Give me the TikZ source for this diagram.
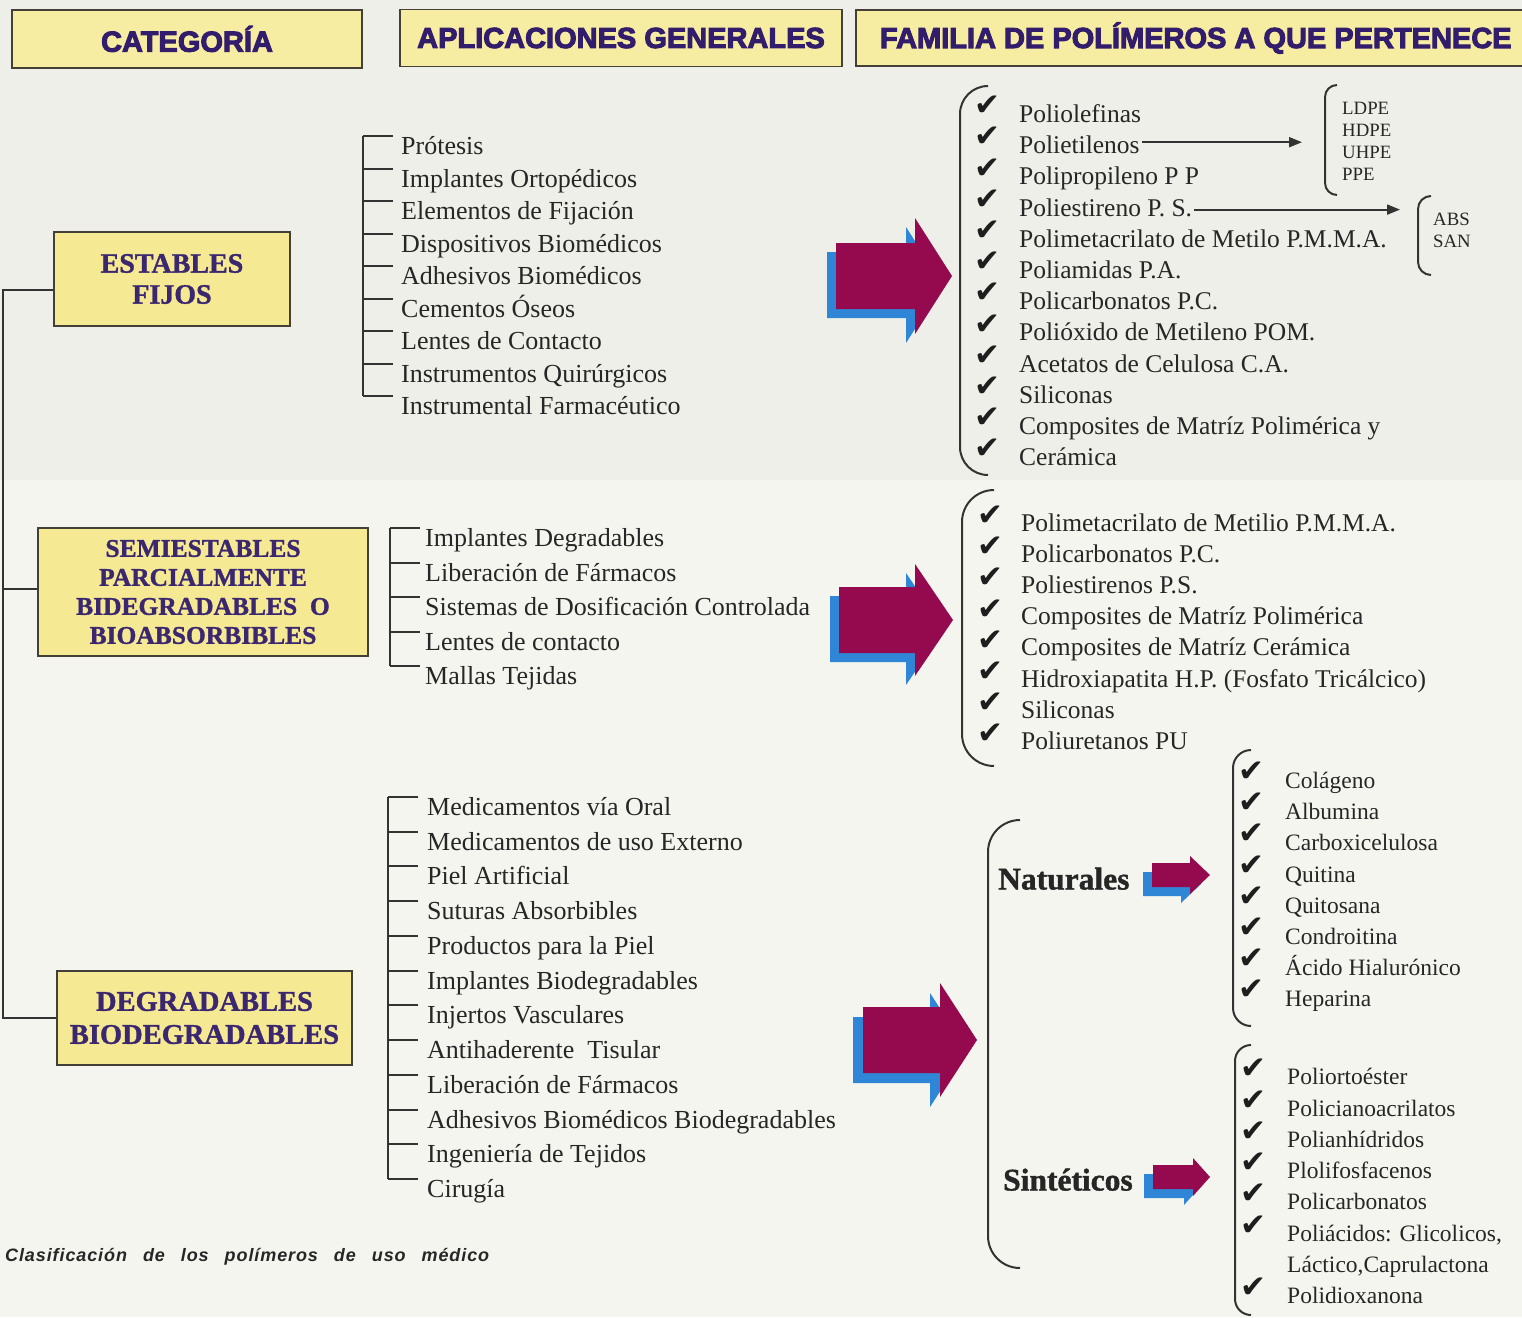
\documentclass[tikz,border=0pt]{standalone}
\usepackage{fontspec}
\setmainfont{Liberation Serif}[BoldFeatures={FakeBold=1.2}]
\newfontfamily\hdrfont{Liberation Sans}[BoldFeatures={FakeBold=3.5}]
\newfontfamily\capfont{Liberation Sans}[LetterSpace=5]
\newfontfamily\chkfont{DejaVu Sans}
\usetikzlibrary{arrows.meta}
\definecolor{bgtop}{HTML}{EFEFE9}
\definecolor{bgbot}{HTML}{F5F5F0}
\definecolor{hdrfill}{HTML}{F7EDA2}
\definecolor{catfill}{HTML}{F5E994}
\definecolor{boxline}{HTML}{444038}
\definecolor{hdrtext}{HTML}{321C6C}
\definecolor{cattext}{HTML}{3B2670}
\definecolor{lncol}{HTML}{333333}
\definecolor{txt}{HTML}{262626}
\definecolor{chkcol}{HTML}{1E1E1E}
\definecolor{amag}{HTML}{95094F}
\definecolor{ablue}{HTML}{2F86D6}
\newcommand\parbr[4]{\draw[br] (#1+#4,#2) to[out=180,in=90] (#1,#2+#4) -- (#1,#3-#4) to[out=-90,in=180] (#1+#4,#3);}
% #1 left x, #2 head base x, #3 tip x, #4 centre y, #5 body half height, #6 head half height, #7 shadow shift
\newcommand\fatarrow[7]{%
  \fill[ablue, shift={(-#7,#7)}] (#1,#4-#5) -- (#2,#4-#5) -- (#2,#4-#6) -- (#3,#4) -- (#2,#4+#6) -- (#2,#4+#5) -- (#1,#4+#5) -- cycle;
  \fill[amag] (#1,#4-#5) -- (#2,#4-#5) -- (#2,#4-#6) -- (#3,#4) -- (#2,#4+#6) -- (#2,#4+#5) -- (#1,#4+#5) -- cycle;}
\tikzset{
  ln/.style={draw=lncol, line width=2pt},
  br/.style={draw=lncol, line width=2pt},
  hbox/.style={draw=boxline, line width=1.6pt, fill=hdrfill, inner sep=0pt, text=hdrtext,
    font=\hdrfont\bfseries\fontsize{29pt}{29pt}\selectfont},
  cbox/.style={draw=boxline, line width=1.6pt, fill=catfill, align=center, inner sep=0pt, text=cattext},
  apitem/.style={anchor=west, inner sep=0pt, text height=17pt, text depth=0pt, text=txt,
    font=\fontsize{26pt}{26pt}\selectfont},
  faitem/.style={anchor=west, inner sep=0pt, text height=17pt, text depth=0pt, text=txt,
    font=\fontsize{25.5pt}{25.5pt}\selectfont},
  nitem/.style={anchor=west, inner sep=0pt, text height=15.5pt, text depth=0pt, text=txt,
    font=\fontsize{23.5pt}{23.5pt}\selectfont},
  smitem/.style={anchor=west, inner sep=0pt, text height=12.4pt, text depth=0pt, text=txt,
    font=\fontsize{18.8pt}{18.8pt}\selectfont},
  grp/.style={anchor=west, inner sep=0pt, text height=21pt, text depth=0pt, text=txt,
    font=\bfseries\fontsize{31.5pt}{31.5pt}\selectfont},
  chk/.style={inner sep=0pt, text=chkcol, font=\chkfont\fontsize{31pt}{31pt}\selectfont},
  arr/.style={draw=lncol, line width=2pt, -{Triangle[length=13pt,width=10pt]}}
}
\begin{document}
\begin{tikzpicture}[x=1pt,y=-1pt]
\fill[bgtop] (0,0) rectangle (1522,480);
\fill[bgbot] (0,480) rectangle (1522,1317);
\useasboundingbox (0,0) rectangle (1522,1317);

% headers
\node[hbox, minimum width=350pt, minimum height=58pt] (h1) at (187,39) {CATEGORÍA};
\node[hbox, minimum width=442pt, minimum height=57pt] (h2) at (621,38) {APLICACIONES GENERALES};
\node[hbox, minimum width=680pt, minimum height=56pt, anchor=west] (h3) at (855,38) {FAMILIA DE POLÍMEROS A QUE PERTENECE};

% categories
\node[cbox, minimum width=236pt, minimum height=94pt, font=\bfseries\fontsize{28pt}{31pt}\selectfont] (c1) at (172,279) {ESTABLES\\FIJOS};
\node[cbox, minimum width=330pt, minimum height=128pt, font=\bfseries\fontsize{25.5pt}{29pt}\selectfont] (c2) at (203,592) {SEMIESTABLES\\PARCIALMENTE\\BIDEGRADABLES\ \ O\\BIOABSORBIBLES};
\node[cbox, minimum width=295pt, minimum height=94pt, font=\bfseries\fontsize{28.5pt}{33pt}\selectfont] (c3) at (204.5,1018) {DEGRADABLES\\BIODEGRADABLES};

% left tree
\coordinate (lt) at (3,0);
\draw[ln] ([yshift=-11pt]c1.west) -- ([yshift=-11pt]c1.west -| lt) -- (c3.west -| lt) -- (c3.west);
\draw[ln] ([yshift=3pt]c2.west) -- ([yshift=3pt]c2.west -| lt);

% application list 1
\foreach \t [count=\i from 0] in {Prótesis, Implantes Ortopédicos, Elementos de Fijación, Dispositivos Biomédicos, Adhesivos Biomédicos, Cementos Óseos, Lentes de Contacto, Instrumentos Quirúrgicos, Instrumental Farmacéutico}{
  \node[apitem] (pa\i) at (401,{146+32.55*\i}) {\t};
  \draw[ln] ([xshift=-38pt,yshift=10pt]pa\i.west) -- ([xshift=-8pt,yshift=10pt]pa\i.west);
}
\draw[ln] ([xshift=-38pt,yshift=10pt]pa0.west) -- ([xshift=-38pt,yshift=10pt]pa8.west);

% application list 2
\foreach \t [count=\i from 0] in {Implantes Degradables, Liberación de Fármacos, Sistemas de Dosificación Controlada, Lentes de contacto, Mallas Tejidas}{
  \node[apitem] (pb\i) at (425,{538+34.5*\i}) {\t};
  \draw[ln] ([xshift=-35pt,yshift=10pt]pb\i.west) -- ([xshift=-5pt,yshift=10pt]pb\i.west);
}
\draw[ln] ([xshift=-35pt,yshift=10pt]pb0.west) -- ([xshift=-35pt,yshift=10pt]pb4.west);

% application list 3
\foreach \t [count=\i from 0] in {Medicamentos vía Oral, Medicamentos de uso Externo, Piel Artificial, Suturas Absorbibles, Productos para la Piel, Implantes Biodegradables, Injertos Vasculares, Antihaderente\ \ Tisular, Liberación de Fármacos, Adhesivos Biomédicos Biodegradables, Ingeniería de Tejidos, Cirugía}{
  \node[apitem] (pc\i) at (427,{807+34.73*\i}) {\t};
  \draw[ln] ([xshift=-39pt,yshift=10pt]pc\i.west) -- ([xshift=-9pt,yshift=10pt]pc\i.west);
}
\draw[ln] ([xshift=-39pt,yshift=10pt]pc0.west) -- ([xshift=-39pt,yshift=10pt]pc11.west);

% big arrows
\fatarrow{836}{915}{952}{276}{33}{58}{9}
\fatarrow{839}{915}{953}{620}{33}{56}{9}
\fatarrow{863}{940}{977}{1040}{33}{57}{10}

% family list A
\parbr{960}{86}{475}{28}
\foreach \t [count=\i from 0] in {Poliolefinas, Polietilenos, Polipropileno P P, Poliestireno P. S., Polimetacrilato de Metilo P.M.M.A., Poliamidas P.A., Policarbonatos P.C., Polióxido de Metileno POM., Acetatos de Celulosa C.A., Siliconas, Composites de Matríz Polimérica y, Cerámica}{
  \node[faitem] (fa\i) at (1019,{114+31.2*\i}) {\t};
  \node[chk] (ka\i) at (987,{106+31.2*\i}) {✔};
}
\parbr{1325}{85}{195}{12}
\foreach \t [count=\i from 0] in {LDPE, HDPE, UHPE, PPE}{
  \node[smitem] (pe\i) at (1342,{108+22*\i}) {\t};
}
\parbr{1418}{196}{275}{13}
\node[smitem] (ps0) at (1433,219) {ABS};
\node[smitem] (ps1) at (1433,241) {SAN};
\coordinate (peend) at (1302,0);
\coordinate (psend) at (1400,0);
\draw[arr] ([xshift=2pt,yshift=3pt]fa1.east) -- ([yshift=3pt]fa1.east -| peend);
\draw[arr] ([xshift=2pt,yshift=-2pt]fa3.east) -- ([yshift=-2pt]fa3.east -| psend);

% family list B
\parbr{962}{490}{766}{32}
\foreach \t [count=\i from 0] in {Polimetacrilato de Metilio P.M.M.A., Policarbonatos P.C., Poliestirenos P.S., Composites de Matríz Polimérica, Composites de Matríz Cerámica, Hidroxiapatita H.P. (Fosfato Tricálcico), Siliconas, Poliuretanos PU}{
  \node[faitem] (fb\i) at (1021,{523+31.1*\i}) {\t};
  \node[chk] (kb\i) at (990,{516+31.1*\i}) {✔};
}

% family list C
\parbr{988}{820}{1268}{32}
\node[grp] (nat) at (998,879) {Naturales};
\node[grp] (sin) at (1003,1180) {Sintéticos};
\fatarrow{1152}{1190}{1210}{875}{12}{19}{9}
\fatarrow{1153}{1193}{1210}{1177}{12}{19}{9}

\parbr{1233}{750}{1026}{18}
\foreach \t [count=\i from 0] in {Colágeno, Albumina, Carboxicelulosa, Quitina, Quitosana, Condroitina, Ácido Hialurónico, Heparina}{
  \node[nitem] (fn\i) at (1285,{781+31.1*\i}) {\t};
  \node[chk] (kn\i) at (1251,{772+31.1*\i}) {✔};
}
\parbr{1235}{1045}{1315}{16}
\foreach \t [count=\i from 0] in {Poliortoéster, Policianoacrilatos, Polianhídridos, Plolifosfacenos, Policarbonatos, {Poliácidos: Glicolicos,}, {Láctico,Caprulactona}, Polidioxanona}{
  \node[nitem] (fs\i) at (1287,{1077+31.3*\i}) {\t};
}
\foreach \i in {0,1,2,3,4,5,7}{
  \node[chk] (ks\i) at (1253,{1069+31.3*\i}) {✔};
}

% caption
\node[anchor=west, inner sep=0pt, text=txt, font=\capfont\bfseries\itshape\fontsize{18pt}{18pt}\selectfont] (cap) at (5,1257) {\spaceskip=16pt\relax Clasificación de los polímeros de uso médico};
\end{tikzpicture}
\end{document}
